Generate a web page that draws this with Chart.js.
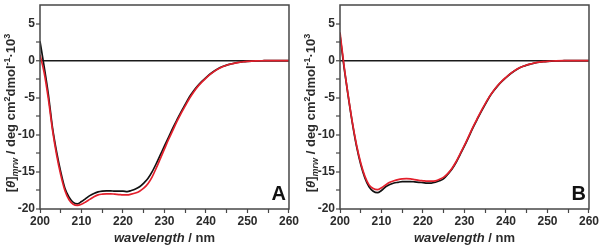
<!DOCTYPE html>
<html>
<head>
<meta charset="utf-8">
<script src="https://cdn.jsdelivr.net/npm/chart.js@4"></script>
<style>
	body { margin: 0; background: #fff; }
	.wrap { display: flex; width: 600px; height: 252px; }
	canvas { display: block; }
</style>
</head>
<body>
<div class="wrap">
	<canvas id="chartA" width="300" height="252"></canvas>
	<canvas id="chartB" width="300" height="252"></canvas>
</div>
<script>
// wavelength in nm
const wavelengths = [
	200, 201, 202, 203, 204, 205, 206, 207, 208, 209,
	210, 211, 212, 213, 214, 215, 216, 217, 218, 219,
	220, 221, 222, 223, 224, 225, 226, 227, 228, 229,
	230, 231, 232, 233, 234, 235, 236, 237, 238, 239,
	240, 241, 242, 243, 244, 245, 246, 247, 248, 249,
	250, 251, 252, 254, 256, 258, 260
]

// panel A, mean residue ellipticity (x 10^3)
const aBlack = [
	2.6, -0.8, -4.5, -9.0, -12.3, -15.0, -17.2, -18.4, -19.1, -19.3,
	-19.0, -18.6, -18.2, -17.9, -17.7, -17.6, -17.55, -17.55, -17.6, -17.6,
	-17.6, -17.65, -17.5, -17.3, -17.0, -16.5, -15.9, -15.0, -13.9, -12.7,
	-11.5, -10.3, -9.1, -8.0, -6.9, -5.9, -4.9, -4.1, -3.4, -2.8,
	-2.3, -1.8, -1.4, -1.05, -0.8, -0.6, -0.45, -0.32, -0.22, -0.15,
	-0.1, -0.06, -0.03, -0.01, 0, 0, 0
]
const aRed = [
	0.8, -1.6, -5.1, -9.3, -12.7, -15.4, -17.5, -18.75, -19.35, -19.5,
	-19.35, -19.05, -18.7, -18.35, -18.1, -18.0, -17.95, -17.95, -18.0, -18.05,
	-18.1, -18.1, -18.0, -17.85, -17.6, -17.2, -16.6, -15.7, -14.5, -13.2,
	-11.9, -10.6, -9.4, -8.2, -7.1, -6.1, -5.1, -4.25, -3.5, -2.9,
	-2.35, -1.85, -1.45, -1.1, -0.82, -0.62, -0.46, -0.33, -0.23, -0.15,
	-0.1, -0.06, -0.03, -0.01, 0, 0, 0
]

// panel B
const bBlack = [
	3.4, -1.0, -4.9, -8.5, -11.6, -14.0, -15.8, -17.0, -17.6, -17.8,
	-17.5, -17.0, -16.7, -16.5, -16.4, -16.3, -16.3, -16.3, -16.35, -16.4,
	-16.45, -16.5, -16.5, -16.4, -16.2, -15.9, -15.3, -14.6, -13.7, -12.6,
	-11.5, -10.3, -9.1, -8.0, -6.9, -5.9, -4.9, -4.1, -3.4, -2.8,
	-2.3, -1.8, -1.4, -1.05, -0.8, -0.6, -0.45, -0.32, -0.22, -0.15,
	-0.1, -0.06, -0.03, -0.01, 0, 0, 0
]
const bRed = [
	3.8, -0.8, -4.8, -8.4, -11.4, -13.8, -15.6, -16.75, -17.25, -17.4,
	-17.15, -16.75, -16.4, -16.2, -16.05, -15.95, -15.9, -15.95, -16.05, -16.15,
	-16.2, -16.25, -16.25, -16.2, -16.0, -15.7, -15.2, -14.5, -13.6, -12.5,
	-11.4, -10.2, -9.0, -7.9, -6.8, -5.8, -4.85, -4.05, -3.35, -2.75,
	-2.25, -1.78, -1.38, -1.03, -0.78, -0.58, -0.44, -0.31, -0.21, -0.14,
	-0.09, -0.05, -0.03, -0.01, 0, 0, 0
]

const xTicks = { min: 200, max: 260, step: 5, labelEvery: 10 }
const yTicks = { min: -20, max: 7.5, step: 2.5, labelEvery: 5 }

;(() => {
	'use strict'

	const FONT = '"Liberation Sans", Arial, sans-serif'
	const TEXT = '#2b2b2b'
	const FRAME = '#474747'

	const pts = ys => wavelengths.map((x, i) => ({ x, y: ys[i] }))

	// draw several font runs as one line, centred on x
	const drawRuns = (ctx, runs, x, y) => {
		let w = 0
		runs.forEach(r => { ctx.font = r.font; w += ctx.measureText(r.t).width })
		let cx = x - w / 2
		ctx.textAlign = 'left'
		ctx.textBaseline = 'alphabetic'
		runs.forEach(r => {
			ctx.font = r.font
			ctx.fillText(r.t, cx, y + (r.dy || 0))
			cx += ctx.measureText(r.t).width
		})
	}

	const decor = letter => ({
		id: 'decor',
		afterDraw(chart) {
			const { ctx, chartArea: a } = chart
			ctx.save()
			ctx.strokeStyle = FRAME
			ctx.lineWidth = 1.5
			ctx.strokeRect(a.left, a.top, a.right - a.left, a.bottom - a.top)

			ctx.fillStyle = TEXT
			const big = 'bold 13px ' + FONT
			const small = 'bold 9px ' + FONT
			drawRuns(ctx, [
				{ t: 'wavelength', font: 'italic ' + big },
				{ t: ' / nm', font: big }
			], (a.left + a.right) / 2, 242)

			ctx.save()
			ctx.translate(15, 113)
			ctx.rotate(-Math.PI / 2)
			drawRuns(ctx, [
				{ t: '[', font: big },
				{ t: 'θ', font: 'italic ' + big },
				{ t: ']', font: big },
				{ t: 'mrw', font: 'italic ' + small, dy: 3 },
				{ t: ' / deg cm', font: big },
				{ t: '2', font: small, dy: -5 },
				{ t: 'dmol', font: big },
				{ t: '-1', font: small, dy: -5 },
				{ t: '·10', font: big },
				{ t: '3', font: small, dy: -5 }
			], 0, 0)
			ctx.restore()

			ctx.fillStyle = '#111'
			ctx.font = 'bold 20px ' + FONT
			ctx.textAlign = 'right'
			ctx.fillText(letter, a.right - 3, 200)
			ctx.restore()
		}
	})

	const makeChart = (id, black, red, letter) => new Chart(document.getElementById(id), {
		type: 'line',
		data: {
			datasets: [{
				label: 'red',
				data: pts(red),
				borderColor: '#e3202c',
				borderWidth: 1.7
			}, {
				label: 'black',
				data: pts(black),
				borderColor: '#111111',
				borderWidth: 1.7
			}]
		},
		options: {
			responsive: false,
			animation: false,
			events: [],
			elements: {
				point: { radius: 0 },
				line: { cubicInterpolationMode: 'monotone', fill: false }
			},
			layout: { padding: { top: 5, right: 10, left: 0, bottom: 0 } },
			plugins: {
				legend: { display: false },
				tooltip: { enabled: false }
			},
			scales: {
				x: {
					type: 'linear',
					min: xTicks.min,
					max: xTicks.max,
					afterFit: s => { s.height = 43; s.paddingLeft = 0 },
					border: { display: false },
					grid: {
						drawOnChartArea: false,
						tickLength: 4,
						tickWidth: 1.2,
						tickColor: FRAME
					},
					ticks: {
						stepSize: xTicks.step,
						autoSkip: false,
						maxRotation: 0,
						padding: 1,
						color: TEXT,
						font: { family: FONT, size: 12, weight: 'bold' },
						callback: v => v % xTicks.labelEvery === 0 ? v : ''
					}
				},
				y: {
					min: yTicks.min,
					max: yTicks.max,
					afterFit: s => { s.width = 40; s.paddingTop = 0; s.paddingBottom = 0 },
					border: { display: false },
					grid: {
						color: c => c.tick && c.tick.value === 0 ? '#1a1a1a' : 'transparent',
						lineWidth: c => c.tick && c.tick.value === 0 ? 1.5 : 0,
						tickLength: 4,
						tickWidth: 1.2,
						tickColor: c => c.tick && c.tick.value === yTicks.max ? 'transparent' : FRAME
					},
					ticks: {
						stepSize: yTicks.step,
						autoSkip: false,
						padding: 1,
						color: TEXT,
						font: { family: FONT, size: 12, weight: 'bold' },
						callback: v => v % yTicks.labelEvery === 0 ? v : ''
					}
				}
			}
		},
		plugins: [decor(letter)]
	})

	makeChart('chartA', aBlack, aRed, 'A')
	makeChart('chartB', bBlack, bRed, 'B')
})()
</script>
</body>
</html>
